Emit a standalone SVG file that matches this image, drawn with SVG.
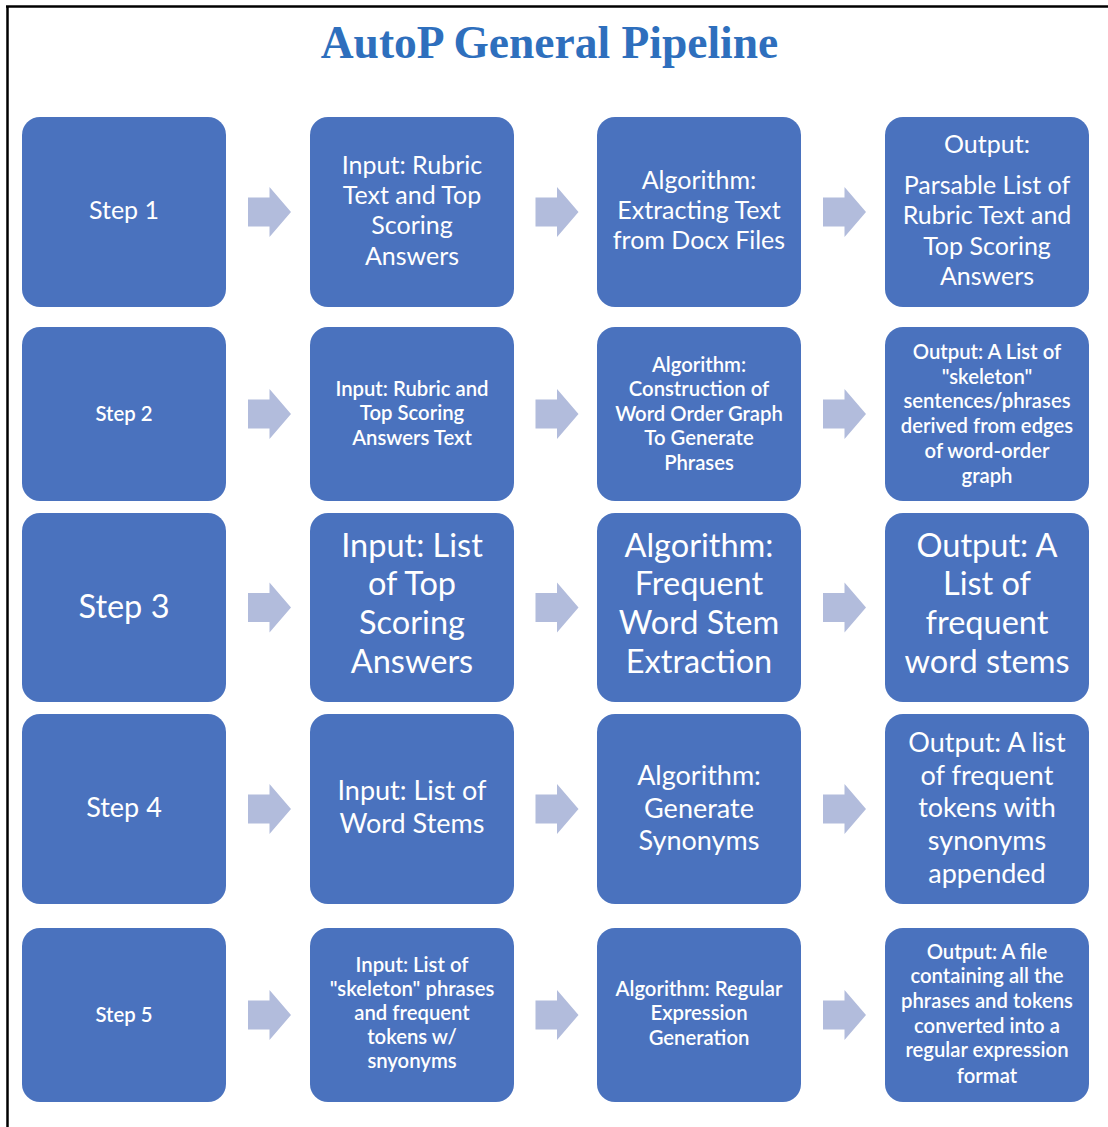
<svg xmlns="http://www.w3.org/2000/svg" width="1108" height="1127" viewBox="0 0 1108 1127">
<style>
.box{fill:#4A72BE}
.arr{fill:#B2BCDC}
text{font-family:Lato,"Open Sans","Liberation Sans",sans-serif;fill:#FFFFFF;text-anchor:middle}
.r1{font-size:25px}
.r2{font-size:20.3px;font-weight:600}
.r3{font-size:32.5px}
.r4{font-size:27px}
.r5{font-size:20.3px;font-weight:600}
.title{font-family:"Liberation Serif","Times New Roman",serif;font-weight:bold;font-size:45.5px;fill:#2E6FBD}
</style>
<defs>
<path id="ar" d="M0,-14.5 H21.5 V-25 L43,0 L21.5,25 V14.5 H0 Z"/>
</defs>
<rect width="1108" height="1127" fill="#FFFFFF"/>
<g id="frame" stroke="#000" stroke-width="2.5" fill="none">
<line x1="6" y1="6.5" x2="1108" y2="6.5"/>
<line x1="7.5" y1="6" x2="7.5" y2="1127"/>
</g>
<text class="title" x="549.5" y="58">AutoP General Pipeline</text>

<g id="connectors">
<use href="#ar" class="arr" x="248" y="212"/>
<use href="#ar" class="arr" x="535.5" y="212"/>
<use href="#ar" class="arr" x="823" y="212"/>
<use href="#ar" class="arr" x="248" y="414"/>
<use href="#ar" class="arr" x="535.5" y="414"/>
<use href="#ar" class="arr" x="823" y="414"/>
<use href="#ar" class="arr" x="248" y="607.5"/>
<use href="#ar" class="arr" x="535.5" y="607.5"/>
<use href="#ar" class="arr" x="823" y="607.5"/>
<use href="#ar" class="arr" x="248" y="809"/>
<use href="#ar" class="arr" x="535.5" y="809"/>
<use href="#ar" class="arr" x="823" y="809"/>
<use href="#ar" class="arr" x="248" y="1015"/>
<use href="#ar" class="arr" x="535.5" y="1015"/>
<use href="#ar" class="arr" x="823" y="1015"/>
</g>

<!-- Row 1 -->
<g id="step1">
<rect class="box" x="22" y="117" width="204" height="190" rx="18"/>
<text class="r1" x="124" y="219">Step 1</text>
</g>
<g id="input1">
<rect class="box" x="310" y="117" width="204" height="190" rx="18"/>
<text class="r1" x="412" y="174">Input: Rubric</text>
<text class="r1" x="412" y="204">Text and Top</text>
<text class="r1" x="412" y="234">Scoring</text>
<text class="r1" x="412" y="265">Answers</text>
</g>
<g id="algo1">
<rect class="box" x="597" y="117" width="204" height="190" rx="18"/>
<text class="r1" x="699" y="189">Algorithm:</text>
<text class="r1" x="699" y="219">Extracting Text</text>
<text class="r1" x="699" y="249">from Docx Files</text>
</g>
<g id="output1">
<rect class="box" x="885" y="117" width="204" height="190" rx="18"/>
<text class="r1" x="987" y="153">Output:</text>
<text class="r1" x="987" y="194">Parsable List of</text>
<text class="r1" x="987" y="224">Rubric Text and</text>
<text class="r1" x="987" y="255">Top Scoring</text>
<text class="r1" x="987" y="285">Answers</text>
</g>

<!-- Row 2 -->
<g id="step2">
<rect class="box" x="22" y="327" width="204" height="174" rx="18"/>
<text class="r2" x="124" y="421">Step 2</text>
</g>
<g id="input2">
<rect class="box" x="310" y="327" width="204" height="174" rx="18"/>
<text class="r2" x="412" y="396">Input: Rubric and</text>
<text class="r2" x="412" y="420">Top Scoring</text>
<text class="r2" x="412" y="445">Answers Text</text>
</g>
<g id="algo2">
<rect class="box" x="597" y="327" width="204" height="174" rx="18"/>
<text class="r2" x="699" y="372">Algorithm:</text>
<text class="r2" x="699" y="396">Construction of</text>
<text class="r2" x="699" y="421">Word Order Graph</text>
<text class="r2" x="699" y="445">To Generate</text>
<text class="r2" x="699" y="470">Phrases</text>
</g>
<g id="output2">
<rect class="box" x="885" y="327" width="204" height="174" rx="18"/>
<text class="r2" x="987" y="359">Output: A List of</text>
<text class="r2" x="987" y="384">"skeleton"</text>
<text class="r2" x="987" y="408">sentences/phrases</text>
<text class="r2" x="987" y="433">derived from edges</text>
<text class="r2" x="987" y="458">of word-order</text>
<text class="r2" x="987" y="483">graph</text>
</g>

<!-- Row 3 -->
<g id="step3">
<rect class="box" x="22" y="513" width="204" height="189" rx="18"/>
<text class="r3" x="124" y="618">Step 3</text>
</g>
<g id="input3">
<rect class="box" x="310" y="513" width="204" height="189" rx="18"/>
<text class="r3" x="412" y="557">Input: List</text>
<text class="r3" x="412" y="595">of Top</text>
<text class="r3" x="412" y="634">Scoring</text>
<text class="r3" x="412" y="673">Answers</text>
</g>
<g id="algo3">
<rect class="box" x="597" y="513" width="204" height="189" rx="18"/>
<text class="r3" x="699" y="557">Algorithm:</text>
<text class="r3" x="699" y="595">Frequent</text>
<text class="r3" x="699" y="634">Word Stem</text>
<text class="r3" x="699" y="673">Extraction</text>
</g>
<g id="output3">
<rect class="box" x="885" y="513" width="204" height="189" rx="18"/>
<text class="r3" x="987" y="557">Output: A</text>
<text class="r3" x="987" y="595">List of</text>
<text class="r3" x="987" y="634">frequent</text>
<text class="r3" x="987" y="673">word stems</text>
</g>

<!-- Row 4 -->
<g id="step4">
<rect class="box" x="22" y="714" width="204" height="190" rx="18"/>
<text class="r4" x="124" y="817">Step 4</text>
</g>
<g id="input4">
<rect class="box" x="310" y="714" width="204" height="190" rx="18"/>
<text class="r4" x="412" y="800">Input: List of</text>
<text class="r4" x="412" y="833">Word Stems</text>
</g>
<g id="algo4">
<rect class="box" x="597" y="714" width="204" height="190" rx="18"/>
<text class="r4" x="699" y="785">Algorithm:</text>
<text class="r4" x="699" y="818">Generate</text>
<text class="r4" x="699" y="850">Synonyms</text>
</g>
<g id="output4">
<rect class="box" x="885" y="714" width="204" height="190" rx="18"/>
<text class="r4" x="987" y="752">Output: A list</text>
<text class="r4" x="987" y="785">of frequent</text>
<text class="r4" x="987" y="817">tokens with</text>
<text class="r4" x="987" y="850">synonyms</text>
<text class="r4" x="987" y="883">appended</text>
</g>

<!-- Row 5 -->
<g id="step5">
<rect class="box" x="22" y="928" width="204" height="174" rx="18"/>
<text class="r5" x="124" y="1022">Step 5</text>
</g>
<g id="input5">
<rect class="box" x="310" y="928" width="204" height="174" rx="18"/>
<text class="r5" x="412" y="972">Input: List of</text>
<text class="r5" x="412" y="996">"skeleton" phrases</text>
<text class="r5" x="412" y="1020">and frequent</text>
<text class="r5" x="412" y="1044">tokens w/</text>
<text class="r5" x="412" y="1068">snyonyms</text>
</g>
<g id="algo5">
<rect class="box" x="597" y="928" width="204" height="174" rx="18"/>
<text class="r5" x="699" y="996">Algorithm: Regular</text>
<text class="r5" x="699" y="1020">Expression</text>
<text class="r5" x="699" y="1045">Generation</text>
</g>
<g id="output5">
<rect class="box" x="885" y="928" width="204" height="174" rx="18"/>
<text class="r5" x="987" y="959">Output: A file</text>
<text class="r5" x="987" y="983">containing all the</text>
<text class="r5" x="987" y="1008">phrases and tokens</text>
<text class="r5" x="987" y="1033">converted into a</text>
<text class="r5" x="987" y="1057">regular expression</text>
<text class="r5" x="987" y="1083">format</text>
</g>
</svg>
